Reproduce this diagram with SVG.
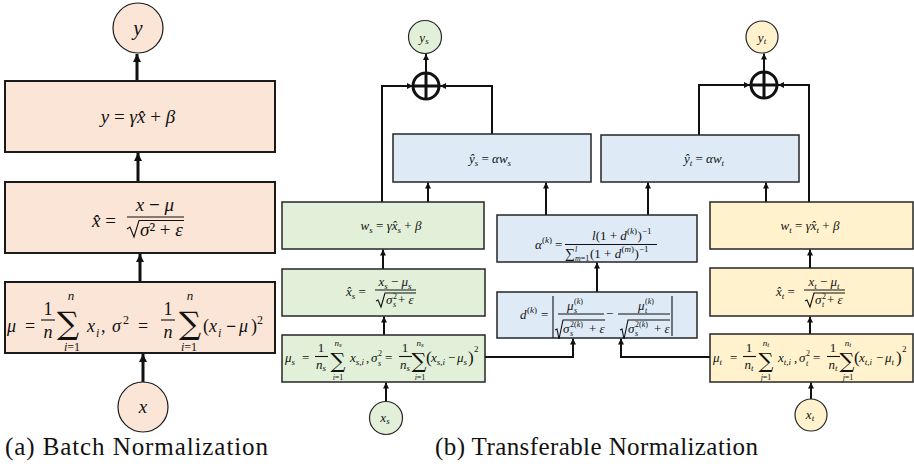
<svg xmlns="http://www.w3.org/2000/svg" width="914" height="469" viewBox="0 0 914 469" font-family="'Liberation Serif', serif">
<defs>
<marker id="aL" markerUnits="userSpaceOnUse" markerWidth="9" markerHeight="9" refX="8" refY="4.5" orient="auto"><path d="M0,0.5 L8,4.5 L0,8.5 Z" fill="#111"/></marker>
<marker id="aS" markerUnits="userSpaceOnUse" markerWidth="6" markerHeight="6" refX="6" refY="3" orient="auto"><path d="M0,0 L6,3 L0,6 Z" fill="#111"/></marker>
</defs>
<style>
.bp{fill:#FBE5D6;stroke:#1a1a1a;stroke-width:2}
.bg{fill:#E2F0D9;stroke:#262626;stroke-width:1.5}
.bb{fill:#DEEBF7;stroke:#262626;stroke-width:1.5}
.by{fill:#FFF2CC;stroke:#262626;stroke-width:1.5}
.cp{fill:#FBE5D6;stroke:#1a1a1a;stroke-width:1.2}
.cg{fill:#E2F0D9;stroke:#262626;stroke-width:1.2}
.cy{fill:#FFF2CC;stroke:#262626;stroke-width:1.2}
text{font-family:"Liberation Serif","Times New Roman",serif;fill:#111}
.m{font-style:italic}
.u{font-style:normal}
.sum{font-family:"DejaVu Serif",serif;font-style:normal}
.cap{font-size:25px}
.c1{fill:none;stroke:#111;stroke-width:3}
.c2{fill:none;stroke:#111;stroke-width:2}
.fr{stroke:#111;stroke-width:1.1;fill:none}
.plus{fill:none;stroke:#111;stroke-width:3}
</style>

<g id="connectors">
<line class="c1" x1="143" y1="382" x2="143" y2="354" marker-end="url(#aL)"/>
<line class="c1" x1="140" y1="282" x2="140" y2="254" marker-end="url(#aL)"/>
<line class="c1" x1="138" y1="182" x2="138" y2="153" marker-end="url(#aL)"/>
<line class="c1" x1="137" y1="81" x2="137" y2="54" marker-end="url(#aL)"/>

<line class="c2" x1="426" y1="72" x2="426" y2="54" marker-end="url(#aS)"/>
<polyline class="c2" points="382,202 382,86 413,86" marker-end="url(#aS)"/>
<polyline class="c2" points="492,134 492,86 440,86" marker-end="url(#aS)"/>
<line class="c2" x1="428" y1="202" x2="428" y2="182.5" marker-end="url(#aS)"/>
<line class="c2" x1="546" y1="215" x2="546" y2="182.5" marker-end="url(#aS)"/>
<line class="c2" x1="383" y1="269" x2="383" y2="249.5" marker-end="url(#aS)"/>
<line class="c2" x1="384" y1="335" x2="384" y2="316.5" marker-end="url(#aS)"/>
<line class="c2" x1="386" y1="401.5" x2="386" y2="382.5" marker-end="url(#aS)"/>
<polyline class="c2" points="485,357 573,357 573,338.5" marker-end="url(#aS)"/>
<line class="c2" x1="597" y1="292" x2="597" y2="262.5" marker-end="url(#aS)"/>
<line class="c2" x1="648" y1="215" x2="648" y2="182.5" marker-end="url(#aS)"/>
<line class="c2" x1="766" y1="202" x2="766" y2="182.5" marker-end="url(#aS)"/>
<line class="c2" x1="764" y1="71" x2="764" y2="53.5" marker-end="url(#aS)"/>
<polyline class="c2" points="699,135 699,85 750,85" marker-end="url(#aS)"/>
<polyline class="c2" points="809,202 809,85 778,85" marker-end="url(#aS)"/>
<line class="c2" x1="810" y1="268" x2="810" y2="249.5" marker-end="url(#aS)"/>
<line class="c2" x1="810" y1="334" x2="810" y2="316.5" marker-end="url(#aS)"/>
<line class="c2" x1="811" y1="399" x2="811" y2="382.5" marker-end="url(#aS)"/>
<polyline class="c2" points="710,357 621,357 621,338.5" marker-end="url(#aS)"/>
</g>

<!-- Left panel -->
<g id="bn-y">
<circle class="cp" cx="138" cy="28" r="25"/>
<text class="m" x="138" y="35" font-size="21" text-anchor="middle">y</text>
</g>
<g id="bn-affine">
<rect class="bp" x="5" y="81" width="270" height="71"/>
<text class="m" x="138" y="123" font-size="19" text-anchor="middle">y <tspan class="u">=</tspan> γx̂ <tspan class="u">+</tspan> β</text>
</g>
<g id="bn-norm">
<rect class="bp" x="5" y="182" width="270" height="71"/>
<text class="m" x="92" y="227" font-size="19">x̂ <tspan class="u">=</tspan></text>
<text class="m" x="155" y="211" font-size="19" text-anchor="middle">x <tspan class="u" font-weight="bold">−</tspan> μ</text>
<line class="fr" x1="127" y1="217" x2="184" y2="217"/>
<path class="fr" d="M127,229 L130,227 L134,237 L139,220.5 L184,220.5"/>
<text class="m" x="140" y="236" font-size="19">σ<tspan class="u">² + </tspan>ε</text>
</g>
<g id="bn-stats">
<rect class="bp" x="5" y="282" width="270" height="71"/>
<text class="m" x="7" y="332" font-size="18">μ</text>
<text class="u" x="25" y="332" font-size="18">=</text>
<text class="u" x="48" y="315" font-size="18" text-anchor="middle">1</text>
<line class="fr" x1="41" y1="320" x2="55" y2="320"/>
<text class="m" x="48" y="338" font-size="18" text-anchor="middle">n</text>
<text class="sum" x="68" y="334" font-size="31" text-anchor="middle">∑</text>
<text class="m" x="71" y="300" font-size="13" text-anchor="middle">n</text>
<text class="m" x="72" y="351" font-size="12" text-anchor="middle">i<tspan class="u">=1</tspan></text>
<text class="m" x="87" y="332" font-size="18">x</text>
<text class="m" x="96" y="337" font-size="12">i</text>
<text class="u" x="101" y="332" font-size="18">,</text>
<text class="m" x="112" y="332" font-size="18">σ</text>
<text class="u" x="123" y="324" font-size="12">2</text>
<text class="u" x="138" y="332" font-size="18">=</text>
<text class="u" x="168" y="315" font-size="18" text-anchor="middle">1</text>
<line class="fr" x1="161" y1="320" x2="175" y2="320"/>
<text class="m" x="168" y="338" font-size="18" text-anchor="middle">n</text>
<text class="sum" x="190" y="334" font-size="31" text-anchor="middle">∑</text>
<text class="m" x="190" y="300" font-size="13" text-anchor="middle">n</text>
<text class="m" x="189" y="351" font-size="12" text-anchor="middle">i<tspan class="u">=1</tspan></text>
<text class="u" x="203" y="332" font-size="18">(</text>
<text class="m" x="209" y="332" font-size="18">x</text>
<text class="m" x="218" y="337" font-size="12">i</text>
<text class="u" x="226" y="332" font-size="18" font-weight="bold">−</text>
<text class="m" x="239" y="332" font-size="18">μ</text>
<text class="u" x="251" y="332" font-size="18">)</text>
<text class="u" x="257" y="324" font-size="12">2</text>
</g>
<g id="bn-x">
<circle class="cp" cx="143" cy="407" r="25"/>
<text class="m" x="143" y="413" font-size="19" text-anchor="middle">x</text>
</g>
<text class="cap" x="5" y="455" textLength="263" lengthAdjust="spacing">(a) Batch Normalization</text>

<!-- Right panel: source -->
<g id="tn-ys">
<circle class="cg" cx="425" cy="37" r="16.5"/>
<text class="m" x="424" y="42" font-size="13" text-anchor="middle">y<tspan font-size="9" dy="2">s</tspan></text>
</g>
<g id="tn-add-s">
<circle class="plus" cx="426" cy="86" r="13"/>
<line class="plus" x1="413" y1="86" x2="439" y2="86"/>
<line class="plus" x1="426" y1="73" x2="426" y2="99"/>
</g>
<g id="tn-yhat-s">
<rect class="bb" x="393" y="134" width="198" height="48"/>
<text class="m" x="490" y="163" font-size="13" text-anchor="middle">ŷ<tspan font-size="9" dy="3">s</tspan><tspan dy="-3"> <tspan class="u">=</tspan> αw</tspan><tspan font-size="9" dy="3">s</tspan></text>
</g>
<g id="tn-ws">
<rect class="bg" x="282" y="202" width="202" height="47"/>
<text class="m" x="391" y="230" font-size="13" text-anchor="middle">w<tspan font-size="9" dy="3">s</tspan><tspan dy="-3"> <tspan class="u">=</tspan> γx̂</tspan><tspan font-size="9" dy="3">s</tspan><tspan dy="-3"> <tspan class="u">+</tspan> β</tspan></text>
</g>
<g id="tn-xhat-s">
<rect class="bg" x="282" y="269" width="203" height="47"/>
<text class="m" x="346" y="296" font-size="13">x̂<tspan font-size="9" dy="3">s</tspan><tspan dy="-3"> <tspan class="u">=</tspan></tspan></text>
<text class="m" x="395" y="286" font-size="13" text-anchor="middle">x<tspan font-size="9" dy="3">s</tspan><tspan dy="-3"> <tspan class="u">−</tspan> μ</tspan><tspan font-size="9" dy="3">s</tspan></text>
<line class="fr" x1="375" y1="290" x2="416" y2="290" stroke-width="0.9"/>
<path class="fr" stroke-width="0.9" d="M376,301 L378,300 L381,307 L385,293 L416,293"/>
<text class="m" x="386" y="304" font-size="13">σ</text>
<text class="u" x="393" y="299" font-size="8">2</text>
<text class="m" x="393" y="307" font-size="8">s</text>
<text class="m" x="398" y="304" font-size="13"><tspan class="u">+</tspan> ε</text>
</g>
<g id="tn-stats-s">
<rect class="bg" x="282" y="335" width="203" height="47"/>
<text class="m" x="285" y="362" font-size="13">μ<tspan font-size="9" dy="3">s</tspan></text>
<text class="u" x="302" y="362" font-size="13">=</text>
<text class="u" x="321" y="352" font-size="13" text-anchor="middle">1</text>
<line class="fr" x1="315" y1="356.5" x2="328" y2="356.5" stroke-width="0.9"/>
<text class="m" x="321" y="369" font-size="13" text-anchor="middle">n<tspan font-size="9" dy="2">s</tspan></text>
<text class="sum" x="338" y="368" font-size="21" text-anchor="middle">∑</text>
<text class="m" x="338" y="346" font-size="9" text-anchor="middle">n<tspan font-size="7" dy="1">s</tspan></text>
<text class="m" x="338" y="380" font-size="8" text-anchor="middle">i<tspan class="u">=1</tspan></text>
<text class="m" x="350" y="362" font-size="13">x<tspan font-size="9" dy="3">s,i</tspan></text>
<text class="u" x="366" y="362" font-size="13">,</text>
<text class="m" x="371" y="362" font-size="13">σ</text>
<text class="u" x="378" y="356" font-size="8">2</text>
<text class="m" x="378" y="366" font-size="8">s</text>
<text class="u" x="385" y="362" font-size="13">=</text>
<text class="u" x="405" y="352" font-size="13" text-anchor="middle">1</text>
<line class="fr" x1="399" y1="356.5" x2="412" y2="356.5" stroke-width="0.9"/>
<text class="m" x="405" y="369" font-size="13" text-anchor="middle">n<tspan font-size="9" dy="2">s</tspan></text>
<text class="sum" x="419" y="368" font-size="21" text-anchor="middle">∑</text>
<text class="m" x="420" y="346" font-size="9" text-anchor="middle">n<tspan font-size="7" dy="1">s</tspan></text>
<text class="m" x="420" y="380" font-size="8" text-anchor="middle">i<tspan class="u">=1</tspan></text>
<text class="u" x="426" y="363" font-size="17">(</text>
<text class="m" x="431" y="362" font-size="13">x<tspan font-size="9" dy="3">s,i</tspan></text>
<text class="u" x="448" y="362" font-size="13">−</text>
<text class="m" x="457" y="362" font-size="13">μ<tspan font-size="9" dy="3">s</tspan></text>
<text class="u" x="468" y="363" font-size="17">)</text>
<text class="u" x="474" y="352" font-size="9">2</text>
</g>
<g id="tn-xs">
<circle class="cg" cx="386" cy="418" r="16.5"/>
<text class="m" x="385" y="422" font-size="13" text-anchor="middle">x<tspan font-size="9" dy="2">s</tspan></text>
</g>

<!-- Middle blue -->
<g id="tn-alpha">
<rect class="bb" x="497" y="215" width="200" height="47"/>
<text class="m" x="535" y="249" font-size="13">α</text>
<text class="u" x="542" y="243" font-size="9">(<tspan class="m">k</tspan>)</text>
<text class="u" x="555" y="249" font-size="13">=</text>
<text class="m" x="592" y="240" font-size="13">l<tspan class="u">(1 + </tspan>d</text>
<text class="u" x="627" y="234" font-size="9">(<tspan class="m">k</tspan>)</text>
<text class="u" x="637.5" y="240" font-size="13">)</text>
<text class="u" x="642" y="234" font-size="9">−1</text>
<line class="fr" x1="565" y1="244.5" x2="657" y2="244.5" stroke-width="0.9"/>
<text class="u" x="565" y="258" font-size="14">∑</text>
<text class="m" x="575" y="252" font-size="8">l</text>
<text class="m" x="575" y="261" font-size="8">m<tspan class="u">=1</tspan></text>
<text class="u" x="590" y="258" font-size="13">(1 + <tspan class="m">d</tspan></text>
<text class="u" x="621.5" y="252" font-size="9">(<tspan class="m">m</tspan>)</text>
<text class="u" x="634.5" y="258" font-size="13">)</text>
<text class="u" x="639" y="252" font-size="9">−1</text>
</g>
<g id="tn-dist">
<rect class="bb" x="497" y="292" width="200" height="46"/>
<text class="m" x="520" y="319" font-size="13">d</text>
<text class="u" x="527" y="313" font-size="9">(<tspan class="m">k</tspan>)</text>
<text class="u" x="541" y="319" font-size="13">=</text>
<line class="fr" x1="553" y1="296" x2="553" y2="338" stroke-width="1.3"/>
<line class="fr" x1="672" y1="296" x2="672" y2="336" stroke-width="1.3"/>
<text class="m" x="567" y="310" font-size="13">μ</text>
<text class="u" x="574" y="304" font-size="8">(<tspan class="m">k</tspan>)</text>
<text class="m" x="574" y="313" font-size="8">s</text>
<line class="fr" x1="558" y1="314" x2="604" y2="314" stroke-width="0.9"/>
<path class="fr" stroke-width="0.9" d="M555,330 L557,329 L559,339 L563,320 L605,320"/>
<text class="m" x="563" y="333" font-size="13">σ</text>
<text class="u" x="570" y="327" font-size="8">2(<tspan class="m">k</tspan>)</text>
<text class="m" x="570" y="336" font-size="8">s</text>
<text class="m" x="589" y="333" font-size="13"><tspan class="u">+</tspan> ε</text>
<text class="u" x="606" y="318" font-size="13">−</text>
<text class="m" x="638" y="310" font-size="13">μ</text>
<text class="u" x="645" y="304" font-size="8">(<tspan class="m">k</tspan>)</text>
<text class="m" x="645" y="313" font-size="8">t</text>
<line class="fr" x1="618" y1="314" x2="670" y2="314" stroke-width="0.9"/>
<path class="fr" stroke-width="0.9" d="M620,330 L622,329 L624,339 L628,320 L670,320"/>
<text class="m" x="628" y="333" font-size="13">σ</text>
<text class="u" x="635" y="327" font-size="8">2(<tspan class="m">k</tspan>)</text>
<text class="m" x="635" y="336" font-size="8">s</text>
<text class="m" x="654" y="333" font-size="13"><tspan class="u">+</tspan> ε</text>
</g>

<!-- Right panel: target -->
<g id="tn-yt">
<circle class="cy" cx="762" cy="37" r="16"/>
<text class="m" x="762" y="42" font-size="13" text-anchor="middle">y<tspan font-size="9" dy="2">t</tspan></text>
</g>
<g id="tn-add-t">
<circle class="plus" cx="764" cy="85" r="13"/>
<line class="plus" x1="751" y1="85" x2="777" y2="85"/>
<line class="plus" x1="764" y1="72" x2="764" y2="98"/>
</g>
<g id="tn-yhat-t">
<rect class="bb" x="601" y="135" width="198" height="47"/>
<text class="m" x="704" y="163" font-size="13" text-anchor="middle">ŷ<tspan font-size="9" dy="3">t</tspan><tspan dy="-3"> <tspan class="u">=</tspan> αw</tspan><tspan font-size="9" dy="3">t</tspan></text>
</g>
<g id="tn-wt">
<rect class="by" x="710" y="202" width="203" height="47"/>
<text class="m" x="810" y="230" font-size="13" text-anchor="middle">w<tspan font-size="9" dy="3">t</tspan><tspan dy="-3"> <tspan class="u">=</tspan> γx̂</tspan><tspan font-size="9" dy="3">t</tspan><tspan dy="-3"> <tspan class="u">+</tspan> β</tspan></text>
</g>
<g id="tn-xhat-t">
<rect class="by" x="710" y="268" width="203" height="48"/>
<text class="m" x="776" y="296" font-size="13">x̂<tspan font-size="9" dy="3">t</tspan><tspan dy="-3"> <tspan class="u">=</tspan></tspan></text>
<text class="m" x="824" y="286" font-size="13" text-anchor="middle">x<tspan font-size="9" dy="3">t</tspan><tspan dy="-3"> <tspan class="u">−</tspan> μ</tspan><tspan font-size="9" dy="3">t</tspan></text>
<line class="fr" x1="804" y1="290" x2="845" y2="290" stroke-width="0.9"/>
<path class="fr" stroke-width="0.9" d="M805,301 L807,300 L810,307 L814,293 L845,293"/>
<text class="m" x="815" y="304" font-size="13">σ</text>
<text class="u" x="822" y="299" font-size="8">2</text>
<text class="m" x="822" y="307" font-size="8">t</text>
<text class="m" x="827" y="304" font-size="13"><tspan class="u">+</tspan> ε</text>
</g>
<g id="tn-stats-t">
<rect class="by" x="710" y="334" width="203" height="48"/>
<text class="m" x="713" y="362" font-size="13">μ<tspan font-size="9" dy="3">t</tspan></text>
<text class="u" x="730" y="362" font-size="13">=</text>
<text class="u" x="749" y="352" font-size="13" text-anchor="middle">1</text>
<line class="fr" x1="743" y1="356.5" x2="756" y2="356.5" stroke-width="0.9"/>
<text class="m" x="749" y="369" font-size="13" text-anchor="middle">n<tspan font-size="9" dy="2">t</tspan></text>
<text class="sum" x="766" y="368" font-size="21" text-anchor="middle">∑</text>
<text class="m" x="766" y="346" font-size="9" text-anchor="middle">n<tspan font-size="7" dy="1">t</tspan></text>
<text class="m" x="766" y="380" font-size="8" text-anchor="middle">j<tspan class="u">=1</tspan></text>
<text class="m" x="778" y="362" font-size="13">x<tspan font-size="9" dy="3">t,i</tspan></text>
<text class="u" x="794" y="362" font-size="13">,</text>
<text class="m" x="799" y="362" font-size="13">σ</text>
<text class="u" x="806" y="356" font-size="8">2</text>
<text class="m" x="806" y="366" font-size="8">t</text>
<text class="u" x="813" y="362" font-size="13">=</text>
<text class="u" x="833" y="352" font-size="13" text-anchor="middle">1</text>
<line class="fr" x1="827" y1="356.5" x2="840" y2="356.5" stroke-width="0.9"/>
<text class="m" x="833" y="369" font-size="13" text-anchor="middle">n<tspan font-size="9" dy="2">t</tspan></text>
<text class="sum" x="847" y="368" font-size="21" text-anchor="middle">∑</text>
<text class="m" x="848" y="346" font-size="9" text-anchor="middle">n<tspan font-size="7" dy="1">t</tspan></text>
<text class="m" x="848" y="380" font-size="8" text-anchor="middle">j<tspan class="u">=1</tspan></text>
<text class="u" x="854" y="363" font-size="17">(</text>
<text class="m" x="859" y="362" font-size="13">x<tspan font-size="9" dy="3">t,i</tspan></text>
<text class="u" x="876" y="362" font-size="13">−</text>
<text class="m" x="885" y="362" font-size="13">μ<tspan font-size="9" dy="3">t</tspan></text>
<text class="u" x="896" y="363" font-size="17">)</text>
<text class="u" x="902" y="352" font-size="9">2</text>
</g>
<g id="tn-xt">
<circle class="cy" cx="811" cy="415" r="16"/>
<text class="m" x="810" y="419" font-size="13" text-anchor="middle">x<tspan font-size="9" dy="2">t</tspan></text>
</g>
<text class="cap" x="435" y="455" textLength="323" lengthAdjust="spacing">(b) Transferable Normalization</text>
</svg>
